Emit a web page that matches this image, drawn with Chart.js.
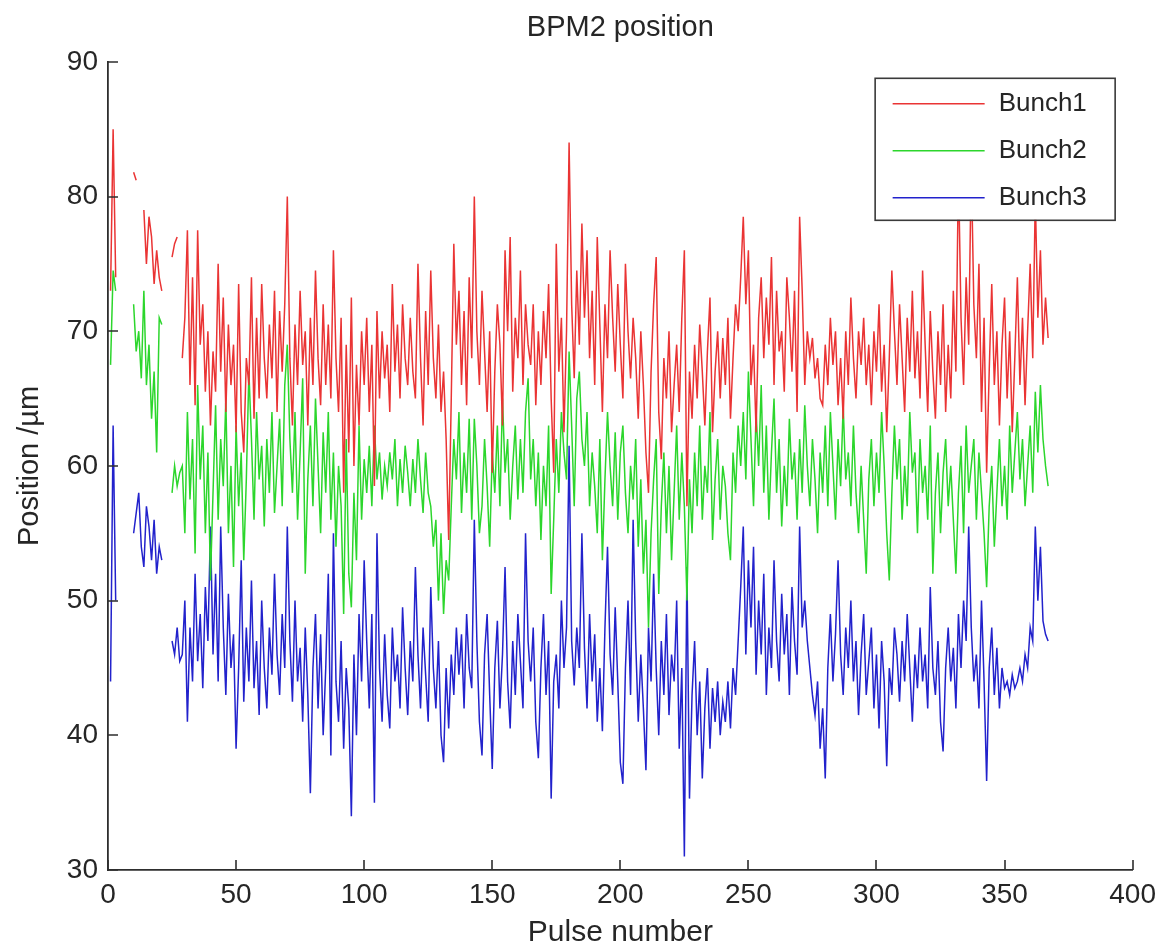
<!DOCTYPE html>
<html>
<head>
<meta charset="utf-8">
<title>BPM2 position</title>
<script src="https://cdn.jsdelivr.net/npm/chart.js@4.4.1/dist/chart.umd.min.js"></script>
<style>
  html, body { margin: 0; padding: 0; background: #fff; }
  canvas { display: block; }
</style>
</head>
<body>
<canvas id="bpm" width="1164" height="951"></canvas>
<script>
var TITLE = 'BPM2 position';
var X_LABEL = 'Pulse number';
var Y_LABEL = 'Position /\u00b5m';
var SERIES_NAMES = ['Bunch1', 'Bunch2', 'Bunch3'];
var X_TICKS = [0, 50, 100, 150, 200, 250, 300, 350, 400];
var Y_TICKS = [30, 40, 50, 60, 70, 80, 90];

// one value per pulse, starting at pulse 1; null = no reading
var bunch1 = [
  73, 85, 74, null, null, null, null, null, null,
  81.8, 81.2, null, null, 79, 75, 78.5, 77, 73.5, 76, 74, 73,
  null, null, null, 75.5, 76.5, 77, null,
  68, 71, 77.5, 66, 74, 64.5, 77.5, 69, 72, 65.5,
  70, 63, 68.5, 65.5, 75, 67, 72.5, 64, 70.5, 66,
  69, 62.5, 73.5, 64, 61, 68, 66, 74, 63.5, 71,
  65, 73.5, 68, 65, 70.5, 66.5, 73, 64, 71.5, 67,
  72, 80, 68, 63, 70.5, 66, 73, 67.5, 70, 63,
  71, 66, 74.5, 68, 64.5, 72, 66, 70.5, 65, 76,
  68, 64, 71, 58, 69, 61, 72.5, 60, 67.5, 63,
  70, 66, 71, 64, 69, 58.5, 71.5, 65, 70, 66.5,
  69, 64, 73.5, 67, 70.5, 65, 72, 68, 66, 71,
  67, 65, 75, 68, 63, 71.5, 66, 74.5, 68, 65,
  70.5, 64, 67, 62, 54.5, 65, 76.5, 69, 73, 66,
  71.5, 64.5, 74, 68, 80, 70, 66, 73, 68.5, 64,
  70, 59.5, 67, 72, 69, 63, 76, 70, 77, 65.5,
  71, 68, 74.5, 66, 72, 69, 67.5, 72, 64.5, 70,
  66, 71.5, 68, 73.5, 65, 59.5, 76.5, 67, 71, 62.5,
  70, 84, 72, 66.5, 74.5, 69, 78, 71, 76, 68,
  73, 66, 77, 70.5, 64, 72, 68, 76, 71, 67,
  73.5, 69, 65, 75, 70, 66.5, 71, 68, 63.5, 70,
  66, 61, 58, 67, 72, 75.5, 64, 60.5, 68, 65,
  70, 62.5, 66, 69, 64, 71, 76, 57, 67, 63.5,
  69, 65, 70.5, 67, 63, 68.5, 72.5, 62.5, 67, 70,
  65, 69.5, 66, 71, 63.5, 68, 72, 70, 74, 78.5,
  72, 76, 66, 69, 62.5, 71, 74, 68, 72.5, 69,
  75.5, 66, 73, 68.5, 70, 65.5, 74, 71, 67, 73,
  64, 78.5, 73, 66, 70, 68, 69.5, 66.5, 68, 65,
  64.5, 69, 66, 71, 67.5, 70, 64.5, 68, 63.5, 70,
  66, 72.5, 68, 65, 70, 67.5, 71, 66, 69, 64.5,
  70, 67, 72, 65.5, 69, 62.5, 68, 74.5, 70, 66,
  72, 68, 64, 71, 67, 73, 66.5, 70, 65, 74.5,
  69, 64, 71.5, 67, 63.5, 70, 66, 72, 64, 69,
  65, 73, 67, 82, 71, 66, 74, 69, 82.5, 72,
  68, 75, 64, 71, 59.5, 67, 73.5, 66, 70, 63,
  69, 72.5, 65, 70, 62.5, 68, 74, 66, 71, 64.5,
  70, 75, 68, 80, 71, 76, 69, 72.5, 69.5
];

var bunch2 = [
  67.5, 74.5, 73, null, null, null, null, null, null,
  72, 68.5, 70, 66.5, 73, 66, 69, 63.5, 67, 61, 71, 70.5,
  null, null, null, 58, 60, 58.5, 59.5,
  60, 55, 64, 57.5, 62, 53.5, 66, 59, 63, 55,
  61, 51.5, 58, 64.5, 56, 62, 58.5, 65, 55, 60,
  52.5, 63, 57, 61, 53, 59, 67, 62, 56, 64,
  59, 61.5, 55.5, 62, 58, 64, 56.5, 60, 63.5, 57,
  66, 69, 62, 58, 64, 56, 61, 66.5, 52, 59,
  63, 57, 65, 60, 55, 62.5, 58, 64, 56, 61,
  54, 60, 57, 49, 62, 52, 49.5, 58, 53, 63,
  56, 60.5, 58, 61.5, 57, 63, 59, 61, 57.5, 60,
  58.5, 61, 59, 62, 57, 60.5, 58, 61.5, 59.5, 57,
  60.5, 58, 62, 59, 56.5, 61, 58, 57, 54, 56,
  50, 55, 49, 53, 51.5, 57, 62, 59, 64, 56.5,
  61, 58, 63.5, 56, 63.5, 60, 55, 57, 62, 58.5,
  54, 61, 58, 63, 57, 65, 59.5, 62, 56, 60,
  63, 57.5, 62, 58, 64, 66.5, 59, 62, 57, 61,
  54.5, 60, 57, 63, 50.5, 56, 62, 58, 64, 61,
  59, 68.5, 63, 57, 65, 67, 62, 60, 64, 57,
  61, 58.5, 55, 62, 53, 59, 64, 60, 57, 62.5,
  56, 61, 63, 58, 55, 60, 57.5, 62, 54, 59,
  52, 56, 48, 55, 59, 62, 50.5, 57, 61, 55,
  60, 53, 58, 63, 56, 61, 57, 50, 59, 55,
  61, 57, 63, 56, 60, 58, 64, 54.5, 59, 62,
  56, 60, 58.5, 55, 53, 61, 58, 63, 60, 64,
  59, 67, 62, 57, 64, 60, 66, 58, 63, 56,
  61, 65, 58, 62, 55.5, 60, 57, 63.5, 59, 61,
  56, 62, 58, 64.5, 60, 57, 62, 59, 55, 61,
  58, 63, 57, 64, 60, 56, 62, 58.5, 64.5, 59,
  61, 57, 63, 58, 55, 60, 56, 52, 59, 62,
  57, 61, 58, 64, 60, 55, 51.5, 58, 63, 59,
  62, 56, 60, 57, 64, 59.5, 61, 55, 62, 58,
  60, 56, 63, 52, 58, 61, 55, 59.5, 62, 57,
  60, 56, 52, 58, 61.5, 55, 63, 58, 60, 62,
  56, 61, 58, 55, 51, 57, 60, 54, 58, 62,
  57, 60, 56, 63, 58, 61, 64, 59, 62, 57,
  60, 63, 58, 65.5, 61, 66, 62, 60, 58.5
];

var bunch3 = [
  44, 63, 50, null, null, null, null, null, null,
  55, 56.5, 58, 54, 52.5, 57, 55.5, 53, 56, 52, 54, 53,
  null, null, null, 47, 46, 48, 45.5,
  46, 50, 41, 48, 44, 52, 45.5, 49, 43.5, 51,
  47, 55.5, 46, 52, 44, 55.5, 48, 43, 50.5, 45,
  47.5, 39, 45, 53, 42.5, 48, 44, 51.5, 43.5, 47,
  41.5, 50, 45, 42, 48, 44.5, 52, 46, 43, 49,
  45, 55.5, 47, 42.5, 50, 44, 46.5, 41, 48, 43,
  35.7, 45, 49, 42, 47.5, 40, 45, 52, 38.5, 55,
  44, 41, 47, 39, 45, 42, 34, 46, 40, 49,
  44, 53, 47, 42, 49, 35, 55, 45, 41, 47.5,
  43, 40.5, 48, 44, 46, 42, 49.5, 45, 41.5, 47,
  44, 52.5, 46, 42, 48, 44.5, 41, 51, 45, 42,
  47, 40, 38, 45, 40.5, 46, 43, 48, 44.5, 47.5,
  42, 49, 45, 43.5, 56, 47, 41, 38.5, 46, 49,
  43, 37.5, 45, 48.5, 42, 46, 52.5, 44, 40.5, 47,
  43, 49, 45.5, 42, 55, 47, 44, 48, 41, 38.3,
  45, 49, 43, 47, 35.3, 44, 46, 42, 50, 45,
  48, 61.5, 47, 43.7, 48, 45, 55, 46.5, 42, 49,
  44, 47.5, 41, 45, 40.3, 48, 54, 46, 43, 49.5,
  44, 38, 36.4, 45, 50, 43, 56, 47, 41, 46,
  42, 37.4, 48, 44, 52, 45, 40, 47, 43, 49,
  41.5, 46, 44, 50, 39, 45, 31, 52.5, 35.3, 43,
  47, 40, 44, 36.8, 42, 45, 39, 43.5, 41, 44,
  40, 42.5, 41, 44, 40.5, 45, 43, 47, 51, 55.5,
  46, 53, 48, 54, 44.5, 50, 46, 52, 43, 48,
  45, 53, 47, 44, 50.5, 46, 49, 43, 51, 47,
  44.5, 55.5, 48, 50, 47, 45, 43, 41.5, 44, 39,
  42, 36.8, 45, 49, 44, 47.5, 53, 46, 43, 48,
  45, 50, 44, 47, 41.5, 46, 49, 43, 45.5, 48,
  42, 46, 40.5, 47, 44, 37.7, 45, 43, 48, 46,
  42.5, 47, 44, 49, 45, 41, 46, 43.5, 48, 44,
  46, 42, 51, 45, 43, 47, 41, 38.8, 45, 48,
  44, 46.5, 42, 49, 45, 50, 47, 55.5, 48, 44,
  46, 42, 50, 44, 36.6, 45, 48, 43, 46.5, 42,
  45, 43.5, 44, 43, 44.5, 43.5, 44, 45, 44, 46,
  45, 48, 47, 55.5, 50, 54, 48.5, 47.5, 47
];

var FONT = "'Liberation Sans', Arial, Helvetica, sans-serif";
var TEXT_COLOR = '#262626';
var AXIS_COLOR = '#2e2e2e';
var LINE_COLORS = ['rgb(234, 52, 52)', 'rgb(44, 214, 44)', 'rgb(34, 34, 204)'];

function toPoints(values) {
    return values.map(function(v, i) {
        return { x: i + 1, y: v };
    });
}

// inward tick marks (MATLAB style) and the boxed legend in the upper right
var matlabDecor = {
    id: 'matlabDecor',
    afterDatasetsDraw: function(chart) {
        var ctx = chart.ctx;
        var area = chart.chartArea;
        var xs = chart.scales.x;
        var ys = chart.scales.y;
        ctx.save();
        ctx.strokeStyle = AXIS_COLOR;
        ctx.lineWidth = 1.6;
        ctx.beginPath();
        X_TICKS.forEach(function(v) {
            var px = Math.round(xs.getPixelForValue(v));
            ctx.moveTo(px, area.bottom);
            ctx.lineTo(px, area.bottom - 10);
        });
        Y_TICKS.forEach(function(v) {
            var py = Math.round(ys.getPixelForValue(v));
            ctx.moveTo(area.left, py);
            ctx.lineTo(area.left + 10, py);
        });
        ctx.stroke();
        ctx.restore();
    },
    afterDraw: function(chart) {
        var ctx = chart.ctx;
        var area = chart.chartArea;
        var w = 240, h = 142;
        var x0 = area.right - 18 - w;
        var y0 = area.top + 16;
        ctx.save();
        ctx.fillStyle = '#fff';
        ctx.fillRect(x0, y0, w, h);
        ctx.strokeStyle = '#3a3a3a';
        ctx.lineWidth = 1.6;
        ctx.strokeRect(x0 + 0.5, y0 + 0.5, w, h);
        ctx.font = '26px ' + FONT;
        ctx.textBaseline = 'middle';
        ctx.textAlign = 'left';
        chart.data.datasets.forEach(function(ds, i) {
            var cy = y0 + 26 + i * 47;
            ctx.strokeStyle = ds.borderColor;
            ctx.lineWidth = 1.5;
            ctx.beginPath();
            ctx.moveTo(x0 + 18, cy);
            ctx.lineTo(x0 + 110, cy);
            ctx.stroke();
            ctx.fillStyle = TEXT_COLOR;
            ctx.fillText(ds.label, x0 + 124, cy);
        });
        ctx.restore();
    }
};

var datasets = [bunch1, bunch2, bunch3].map(function(values, i) {
    return {
        label: SERIES_NAMES[i],
        data: toPoints(values),
        borderColor: LINE_COLORS[i],
        backgroundColor: LINE_COLORS[i],
        borderWidth: 1.5,
        pointRadius: 0,
        tension: 0,
        spanGaps: false,
        fill: false
    };
});

new Chart(document.getElementById('bpm').getContext('2d'), {
    type: 'line',
    data: { datasets: datasets },
    options: {
        responsive: false,
        animation: false,
        devicePixelRatio: 1,
        layout: { padding: { top: 0, right: 29, bottom: 0, left: 0 } },
        plugins: {
            legend: { display: false },
            tooltip: { enabled: false },
            title: {
                display: true,
                fullSize: false,
                text: TITLE,
                color: TEXT_COLOR,
                font: { family: FONT, size: 29, weight: 'normal' },
                padding: { top: 11, bottom: 16 }
            }
        },
        scales: {
            x: {
                type: 'linear',
                min: X_TICKS[0],
                max: X_TICKS[X_TICKS.length - 1],
                afterBuildTicks: function(scale) {
                    scale.ticks = X_TICKS.map(function(v) { return { value: v }; });
                },
                afterFit: function(scale) { scale.height = 81; },
                grid: { display: false, drawTicks: false, tickLength: 0 },
                border: { display: true, color: AXIS_COLOR, width: 1.8 },
                ticks: {
                    color: TEXT_COLOR,
                    padding: 8,
                    maxRotation: 0,
                    autoSkip: false,
                    font: { family: FONT, size: 28 }
                },
                title: {
                    display: true,
                    text: X_LABEL,
                    color: TEXT_COLOR,
                    font: { family: FONT, size: 30 },
                    padding: { top: 0, bottom: 0 }
                }
            },
            y: {
                type: 'linear',
                min: Y_TICKS[0],
                max: Y_TICKS[Y_TICKS.length - 1],
                afterBuildTicks: function(scale) {
                    scale.ticks = Y_TICKS.map(function(v) { return { value: v }; });
                },
                afterFit: function(scale) { scale.width = 108; },
                grid: { display: false, drawTicks: false, tickLength: 0 },
                border: { display: true, color: AXIS_COLOR, width: 1.8 },
                ticks: {
                    color: TEXT_COLOR,
                    padding: 10,
                    autoSkip: false,
                    font: { family: FONT, size: 28 }
                },
                title: {
                    display: true,
                    text: Y_LABEL,
                    color: TEXT_COLOR,
                    font: { family: FONT, size: 29 },
                    padding: { top: 13, bottom: 0 }
                }
            }
        }
    },
    plugins: [matlabDecor]
});
</script>
</body>
</html>
